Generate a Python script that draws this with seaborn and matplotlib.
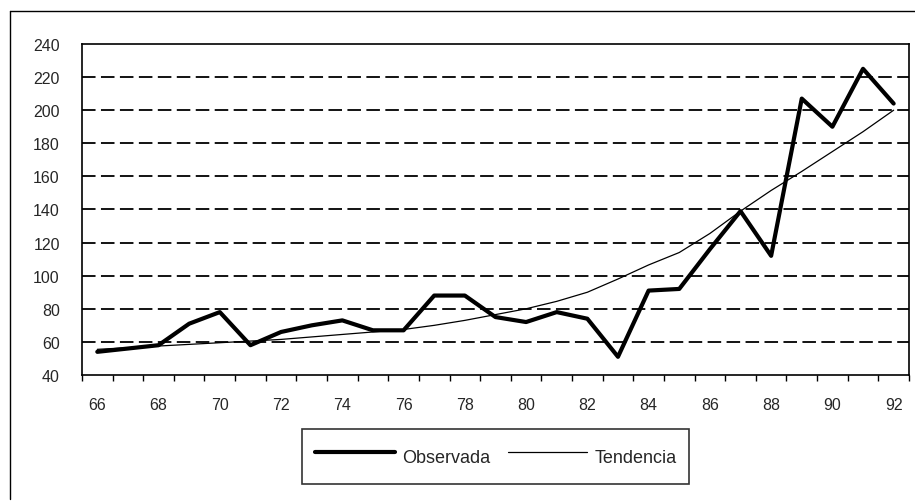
import seaborn as sns
import matplotlib.pyplot as plt
from matplotlib.lines import Line2D
import pandas as pd

years = list(range(66, 93))
observada = [54, 56, 58, 71, 78, 58, 66, 70, 73, 67, 67, 88, 88, 75, 72, 78, 74,
             51, 91, 92, 116, 139, 112, 207, 190, 225, 204]
tendencia = [55.5, 56.5, 57.5, 58.5, 59.5, 60.5, 61.5, 63, 64.5, 66, 67.5, 70, 73,
             76.5, 80, 84.5, 90, 98, 106.5, 114, 125.5, 139, 151.5, 163, 175, 187, 200]
y_ticks = [40, 60, 80, 100, 120, 140, 160, 180, 200, 220, 240]
x_labels = [66, 68, 70, 72, 74, 76, 78, 80, 82, 84, 86, 88, 90, 92]

df = pd.DataFrame({"año": years, "Observada": observada, "Tendencia": tendencia})

sns.set_style("white")
plt.rcParams["font.family"] = ["Liberation Sans", "DejaVu Sans"]

fig = plt.figure(figsize=(9.15, 5.02), dpi=100)
ax = fig.add_axes([0.0896, 0.251, 0.9038, 0.6594])

sns.lineplot(data=df, x="año", y="Observada", color="black", linewidth=3.0,
             label="Observada", ax=ax, legend=False)
sns.lineplot(data=df, x="año", y="Tendencia", color="black", linewidth=0.9,
             label="Tendencia", ax=ax, legend=False)

ax.set_xlim(65.5, 92.5)
ax.set_ylim(40, 240)
ax.set_xlabel("")
ax.set_ylabel("")

# gridlines dashed
for v in y_ticks[1:-1]:
    ax.axhline(v, color="black", linewidth=1.3, linestyle=(0, (7.5, 3)), zorder=0.5)

ax.set_yticks(y_ticks)
ax.set_yticklabels([str(v) for v in y_ticks], fontsize=11.5)
ax.tick_params(axis="y", direction="out", length=4, width=1, color="black", pad=12)

# ticks on band boundaries, labels at even years
ax.set_xticks([y - 0.5 for y in years] + [92.5])
ax.set_xticklabels([])
ax.set_xticks(x_labels, minor=True)
ax.set_xticklabels([str(v) for v in x_labels], minor=True, fontsize=11.5)
ax.tick_params(axis="x", which="major", direction="out", length=4, width=1,
               color="black", bottom=True)
ax.tick_params(axis="x", which="minor", length=0, pad=16)

for s in ax.spines.values():
    s.set_color("black")
    s.set_linewidth(1.2)

handles = [Line2D([], [], color="black", linewidth=3.0),
           Line2D([], [], color="black", linewidth=0.9)]
leg = fig.legend(handles, ["Observada", "Tendencia"], loc="center",
                 bbox_to_anchor=(0.542, 0.0886), ncol=2, fontsize=13,
                 frameon=True, fancybox=False, shadow=False, edgecolor="black",
                 handlelength=4.4, handletextpad=0.4, columnspacing=1.0,
                 handleheight=2.2, borderpad=0.7)
leg.get_frame().set_linewidth(1.2)

# outer frame of the chart area
fig.add_artist(Line2D([10 / 915, 1.0], [1 - 12 / 502, 1 - 12 / 502],
                      transform=fig.transFigure, color="black", linewidth=1))
fig.add_artist(Line2D([10 / 915, 10 / 915], [1 - 12 / 502, 1 - 500 / 502],
                      transform=fig.transFigure, color="black", linewidth=1))

fig.savefig("out.png", dpi=100)
